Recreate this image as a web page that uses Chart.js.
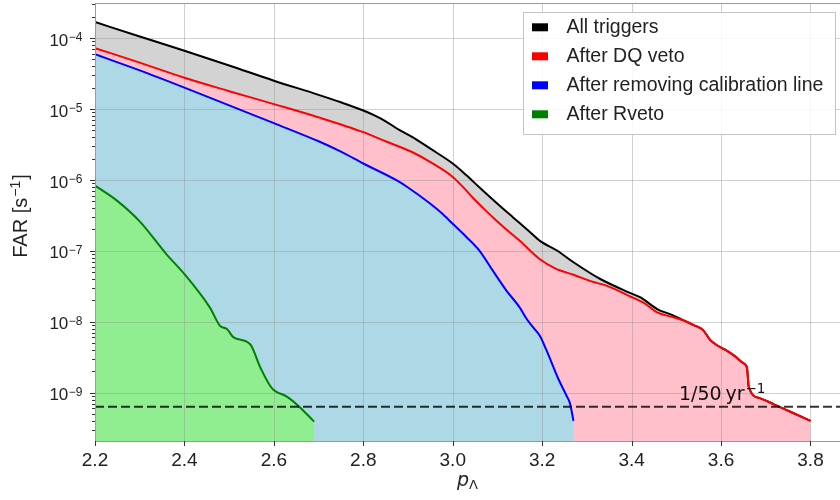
<!DOCTYPE html>
<html>
<head>
<meta charset="utf-8">
<script src="https://cdn.jsdelivr.net/npm/chart.js@4.4.0/dist/chart.umd.min.js"></script>
<style>
  html, body { margin: 0; padding: 0; background: #fff; }
  #wrap { width: 840px; height: 500px; }
</style>
</head>
<body>
<div id="wrap"><canvas id="far_chart" width="840" height="500"></canvas></div>
<script>
// FAR [1/s] against p_Lambda
const allX = [2.2, 2.3, 2.4, 2.5, 2.6, 2.7, 2.75, 2.8, 2.825, 2.85, 2.875, 2.91, 2.95, 3.0, 3.03, 3.06, 3.1, 3.135, 3.17, 3.195, 3.234, 3.27, 3.33, 3.395, 3.42, 3.457, 3.49, 3.515,
              3.54, 3.56, 3.575, 3.59, 3.61, 3.63, 3.65, 3.658, 3.662, 3.688, 3.717, 3.76, 3.8];
const allFar = [1.68e-4, 1.05e-4, 6.6e-5, 4.1e-5, 2.5e-5, 1.58e-5, 1.24e-5, 9.5e-6, 8.1e-6, 6.7e-6, 5.3e-6, 4.0e-6, 2.75e-6, 1.7e-6, 1.17e-6, 7.8e-7, 4.6e-7, 2.95e-7, 1.9e-7, 1.38e-7, 1.0e-7, 6.9e-8, 4.0e-8, 2.57e-8, 2.2e-8, 1.51e-8, 1.25e-8, 1.05e-8,
                8.9e-9, 7.6e-9, 5.6e-9, 4.7e-9, 4.0e-9, 3.3e-9, 2.6e-9, 2.24e-9, 1.2e-9, 8.3e-10, 6.9e-10, 5.2e-10, 4.0e-10];

const dqX = [2.2, 2.3, 2.4, 2.5, 2.6, 2.7, 2.8, 2.85, 2.91, 2.95, 3.0, 3.02, 3.045, 3.07, 3.09, 3.12, 3.15, 3.195, 3.23, 3.27, 3.31, 3.345, 3.395, 3.43, 3.457, 3.49, 3.515,
             3.54, 3.56, 3.575, 3.59, 3.61, 3.63, 3.65, 3.658, 3.662, 3.688, 3.717, 3.76, 3.8];
const dqFar = [7.2e-5, 4.5e-5, 2.75e-5, 1.78e-5, 1.17e-5, 7.6e-6, 4.7e-6, 3.5e-6, 2.45e-6, 1.78e-6, 1.1e-6, 8.3e-7, 5.6e-7, 3.9e-7, 2.95e-7, 2.0e-7, 1.38e-7, 7.6e-8, 5.6e-8, 4.6e-8, 3.7e-8, 3.2e-8, 2.3e-8, 1.8e-8, 1.35e-8, 1.17e-8, 1.05e-8,
               8.9e-9, 7.6e-9, 5.6e-9, 4.7e-9, 4.0e-9, 3.3e-9, 2.6e-9, 2.24e-9, 1.2e-9, 8.3e-10, 6.9e-10, 5.2e-10, 4.0e-10];

const calX = [2.2, 2.3, 2.4, 2.5, 2.6, 2.7, 2.75, 2.8, 2.875, 2.9, 2.95, 2.975, 3.0, 3.03, 3.06, 3.09, 3.12, 3.15, 3.165, 3.18, 3.195, 3.21, 3.235, 3.255, 3.262, 3.27];
const calFar = [5.9e-5, 3.5e-5, 2.0e-5, 1.12e-5, 6.3e-6, 3.5e-6, 2.5e-6, 1.7e-6, 9.8e-7, 7.8e-7, 4.6e-7, 3.4e-7, 2.4e-7, 1.58e-7, 1.0e-7, 5.2e-8, 2.75e-8, 1.58e-8, 1.1e-8, 8.3e-9, 6.3e-9, 3.9e-9, 1.62e-9, 8.9e-10, 7.1e-10, 4.0e-10];

const rvetoX = [2.2, 2.249, 2.3, 2.36, 2.4, 2.457, 2.48, 2.495, 2.51, 2.547, 2.57, 2.595, 2.63, 2.655, 2.69];
const rvetoFar = [8.3e-7, 5.1e-7, 2.6e-7, 8.9e-8, 4.7e-8, 1.58e-8, 8.7e-9, 7.9e-9, 6.0e-9, 4.8e-9, 2.24e-9, 1.17e-9, 8.7e-10, 6.5e-10, 3.9e-10];

const seriesNames = ["All triggers", "After DQ veto", "After removing calibration line", "After Rveto"];

// one per 50 years
const yearSec = 365.25 * 86400;
const lineX = [2.2, 3.866];
const lineFar = [1 / (50 * yearSec), 1 / (50 * yearSec)];

const xTicks = [2.2, 2.4, 2.6, 2.8, 3.0, 3.2, 3.4, 3.6, 3.8];
const yDecades = [-9, -8, -7, -6, -5, -4];

function pts(xs, ys) {
    return xs.map((x, i) => ({x: x, y: ys[i]}));
}

const SANS = '"Liberation Sans", Arial, sans-serif';
const MATH = '"DejaVu Sans", sans-serif';

const decor = {
    id: 'decor',
    // grid goes on top of the fills but under the lines
    beforeDatasetsDraw(chart) {
        const ctx = chart.ctx, a = chart.chartArea;
        const xs = chart.scales.x, ys = chart.scales.y;
        ctx.save();
        ctx.strokeStyle = 'rgba(150,150,150,0.45)';
        ctx.lineWidth = 1;
        ctx.beginPath();
        xTicks.forEach(v => {
            const px = Math.round(xs.getPixelForValue(v)) + 0.5;
            ctx.moveTo(px, a.top); ctx.lineTo(px, a.bottom);
        });
        yDecades.forEach(d => {
            const py = Math.round(ys.getPixelForValue(Math.pow(10, d))) + 0.5;
            ctx.moveTo(a.left, py); ctx.lineTo(a.right, py);
        });
        ctx.stroke();
        ctx.restore();
    },
    afterDatasetsDraw(chart) {
        const ctx = chart.ctx, a = chart.chartArea;
        const xs = chart.scales.x, ys = chart.scales.y;
        ctx.save();

        // frame
        ctx.strokeStyle = '#9a9a9a';
        ctx.lineWidth = 1;
        ctx.strokeRect(a.left + 0.5, a.top + 0.5, a.right - a.left, a.bottom - a.top);

        // tick marks
        ctx.strokeStyle = '#333';
        ctx.beginPath();
        xTicks.forEach(v => {
            const px = Math.round(xs.getPixelForValue(v)) + 0.5;
            ctx.moveTo(px, a.bottom); ctx.lineTo(px, a.bottom + 5);
        });
        for (let d = -10; d <= -3; d++) {
            for (let m = 1; m <= 9; m++) {
                const v = m * Math.pow(10, d);
                if (v < ys.min || v > ys.max) continue;
                const py = Math.round(ys.getPixelForValue(v)) + 0.5;
                ctx.moveTo(a.left - (m === 1 ? 5 : 3), py); ctx.lineTo(a.left, py);
            }
        }
        ctx.stroke();

        // tick labels
        ctx.fillStyle = '#222';
        ctx.textBaseline = 'alphabetic';
        ctx.textAlign = 'center';
        ctx.font = '19px ' + SANS;
        xTicks.forEach(v => {
            ctx.fillText(v.toFixed(1), xs.getPixelForValue(v), 466);
        });
        ctx.textAlign = 'left';
        yDecades.forEach(d => {
            const py = ys.getPixelForValue(Math.pow(10, d));
            ctx.font = '12px ' + SANS;
            const sup = '\u2212' + Math.abs(d);
            const ws = ctx.measureText(sup).width;
            ctx.font = '17px ' + SANS;
            const wb = ctx.measureText('10').width;
            const x0 = 82 - ws - wb;
            ctx.fillText('10', x0, py + 7.7);
            ctx.font = '12px ' + SANS;
            ctx.fillText(sup, x0 + wb + 0.5, py + 3.4);
        });

        // axis titles
        ctx.font = 'italic 19px ' + MATH;
        const wp = ctx.measureText('p').width;
        ctx.font = '13px ' + MATH;
        const wl = ctx.measureText('\u039B').width;
        const cx = (a.left + a.right) / 2;
        ctx.font = 'italic 19px ' + MATH;
        ctx.fillText('p', cx - (wp + wl) / 2, 486);
        ctx.font = '13px ' + MATH;
        ctx.fillText('\u039B', cx - (wp + wl) / 2 + wp, 489);

        ctx.save();
        ctx.translate(20, 216);
        ctx.rotate(-Math.PI / 2);
        ctx.font = '20px ' + SANS;
        const t1 = 'FAR [s', t3 = ']';
        const w1 = ctx.measureText(t1).width, w3 = ctx.measureText(t3).width;
        ctx.font = '14px ' + SANS;
        const w2 = ctx.measureText('\u22121').width;
        let tx = -(w1 + w2 + w3 + 2) / 2;
        ctx.font = '20px ' + SANS;
        ctx.fillText(t1, tx, 7);
        ctx.font = '14px ' + SANS;
        ctx.fillText('\u22121', tx + w1 + 1, -0.5);
        ctx.font = '20px ' + SANS;
        ctx.fillText(t3, tx + w1 + w2 + 2, 7);
        ctx.restore();

        // threshold label
        ctx.font = '19px ' + MATH;
        ctx.fillStyle = '#111';
        ctx.fillText('1/50\u2009yr', 679, 400);
        const wy = ctx.measureText('1/50\u2009yr').width;
        ctx.font = '13.5px ' + MATH;
        ctx.fillText('\u22121', 679 + wy + 1, 393);

        // legend
        ctx.fillStyle = 'rgba(255,255,255,0.85)';
        ctx.fillRect(523, 12, 313, 122);
        ctx.strokeStyle = '#c4c4c4';
        ctx.strokeRect(523.5, 12.5, 312, 122);
        ctx.font = '19.5px ' + SANS;
        seriesNames.forEach((name, i) => {
            const ds = chart.data.datasets[i];
            const base = 33.3 + i * 29;
            ctx.fillStyle = ds.borderColor;
            ctx.fillRect(532, base - 10, 16, 8);
            ctx.fillStyle = '#222';
            ctx.fillText(name, 566.5, base);
        });

        ctx.restore();
    }
};

new Chart('far_chart', {
    type: 'line',
    data: {
        datasets: [
            {label: seriesNames[0], data: pts(allX, allFar), borderColor: '#000000', backgroundColor: '#d3d3d3', fill: 'start', order: 4},
            {label: seriesNames[1], data: pts(dqX, dqFar), borderColor: '#ff0000', backgroundColor: '#ffc0cb', fill: 'start', order: 3},
            {label: seriesNames[2], data: pts(calX, calFar), borderColor: '#0000ff', backgroundColor: '#add8e6', fill: 'start', order: 2},
            {label: seriesNames[3], data: pts(rvetoX, rvetoFar), borderColor: '#008000', backgroundColor: '#90ee90', fill: 'start', order: 1},
            {label: '1/50 yr', data: pts(lineX, lineFar), borderColor: 'rgba(0,0,0,0.8)', borderDash: [9, 4], borderWidth: 2, fill: false, order: 0, cubicInterpolationMode: 'default'}
        ]
    },
    options: {
        responsive: false,
        animation: false,
        elements: {
            point: {radius: 0},
            line: {borderWidth: 2, cubicInterpolationMode: 'monotone'}
        },
        layout: {padding: {top: 3, left: 0, right: 0, bottom: 0}},
        plugins: {
            legend: {display: false},
            tooltip: {enabled: false},
            filler: {drawTime: 'beforeDatasetsDraw'}
        },
        scales: {
            x: {
                type: 'linear', min: 2.2, max: 3.866,
                ticks: {display: false}, grid: {display: false}, border: {display: false},
                afterFit(s) { s.height = 59; }
            },
            y: {
                type: 'logarithmic', min: Math.pow(10, -9.682), max: Math.pow(10, -3.5065),
                ticks: {display: false}, grid: {display: false}, border: {display: false},
                afterFit(s) { s.width = 95; }
            }
        }
    },
    plugins: [decor]
});
</script>
</body>
</html>
